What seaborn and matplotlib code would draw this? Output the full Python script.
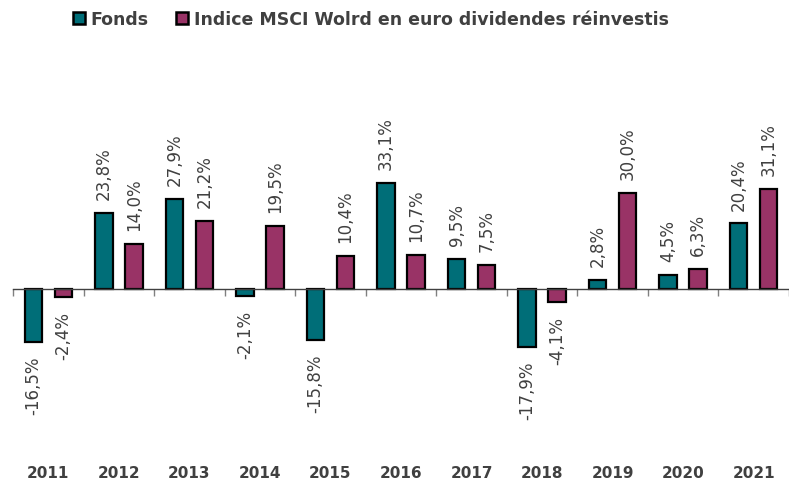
import matplotlib
matplotlib.use("Agg")
import matplotlib.pyplot as plt
import matplotlib.transforms as mtransforms
import numpy as np
import pandas as pd
import seaborn as sns

years = ["2011", "2012", "2013", "2014", "2015", "2016",
         "2017", "2018", "2019", "2020", "2021"]
fonds = [-16.5, 23.8, 27.9, -2.1, -15.8, 33.1, 9.5, -17.9, 2.8, 4.5, 20.4]
indice = [-2.4, 14.0, 21.2, 19.5, 10.4, 10.7, 7.5, -4.1, 30.0, 6.3, 31.1]
series = ["Fonds", "Indice MSCI Wolrd en euro dividendes réinvestis"]
colors = ["#006E78", "#993366"]
TXT = "#404040"

df = pd.DataFrame({
    "year": years * 2,
    "value": fonds + indice,
    "serie": [series[0]] * len(years) + [series[1]] * len(years),
})

sns.set_theme(style="white")
plt.rcParams["font.family"] = ["DejaVu Sans"]

fig = plt.figure(figsize=(7.89, 4.81), dpi=100)
ax = fig.add_axes([13 / 789, 0.063, 776 / 789, 0.815])

sns.barplot(data=df, x="year", y="value", hue="serie", palette=colors,
            width=0.85, gap=0.42, edgecolor="black", linewidth=1.6,
            saturation=1, ax=ax, legend=True)

ax.set_ylim(-50, 72)
ax.set_xlim(-0.5, 10.37)

# data labels, rotated, French decimal comma
for cont, vals in zip(ax.containers, [fonds, indice]):
    labs = [f"{v:.1f}%".replace(".", ",") for v in vals]
    ax.bar_label(cont, labels=labs, rotation=90, padding=10,
                 fontsize=12, color=TXT)

# axis line at zero with boundary ticks
for s in ["top", "right", "left"]:
    ax.spines[s].set_visible(False)
ax.spines["bottom"].set_position(("data", 0))
ax.spines["bottom"].set_color("#404040")
ax.spines["bottom"].set_linewidth(1.0)
ax.set_yticks([])
ax.set_xticks(np.arange(-0.5, 10.6, 1.0))
ax.set_xticklabels([])
ax.tick_params(axis="x", direction="out", length=5, width=1, color="#808080",
               bottom=True)
ax.set_xlabel("")
ax.set_ylabel("")

# year labels at the bottom of the chart
trans = mtransforms.blended_transform_factory(ax.transData, ax.transAxes)
for i, y in enumerate(years):
    ax.text(i, -0.058, y, transform=trans, ha="center", va="center",
            fontsize=11, fontweight="bold", color=TXT)

leg = ax.legend(loc="center", bbox_to_anchor=(0.47, 0.958),
                bbox_transform=fig.transFigure, ncol=2, frameon=False,
                handlelength=0.7, handleheight=0.7, handletextpad=0.3,
                columnspacing=1.6, prop={"weight": "bold", "size": 12.5})
for t in leg.get_texts():
    t.set_color(TXT)
for h in leg.legend_handles:
    h.set_edgecolor("black")
    h.set_linewidth(1.8)

fig.savefig("out.png", dpi=100)
